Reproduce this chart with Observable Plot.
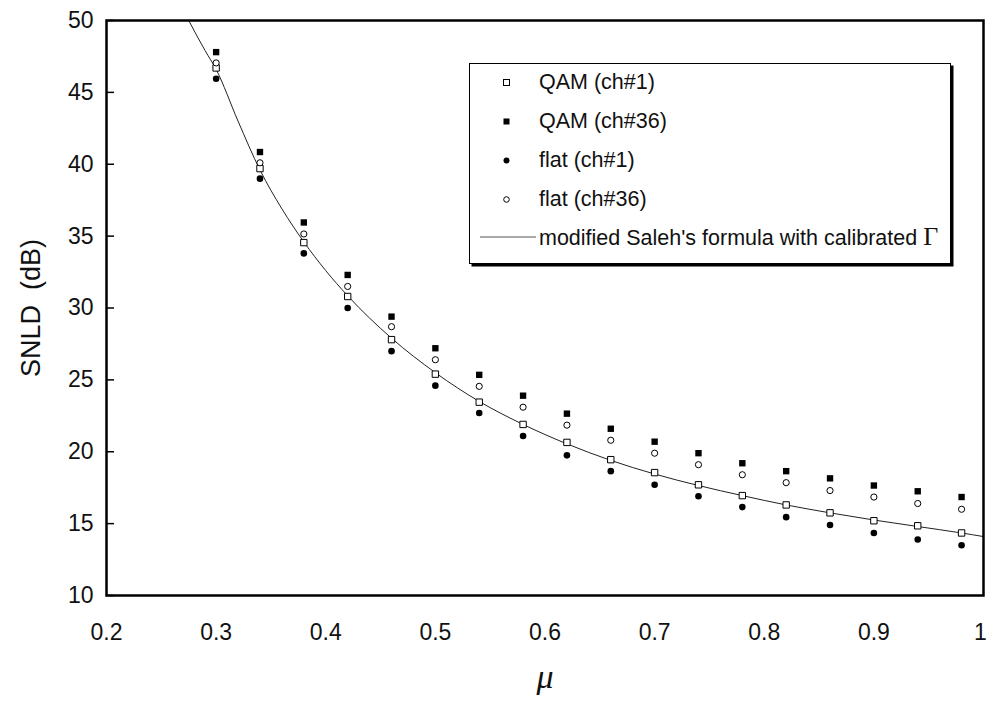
<!DOCTYPE html>
<html>
<head>
<meta charset="utf-8">
<script src="https://cdn.jsdelivr.net/npm/d3@7"></script>
<script src="https://cdn.jsdelivr.net/npm/@observablehq/plot@0.6"></script>
<style>
  html, body { margin: 0; padding: 0; background: #fff; }
  #wrap { position: relative; width: 987px; height: 705px; font-family: "Liberation Sans", Arial, sans-serif; }
  #legend { position: absolute; left: 469px; top: 63px; width: 480px; height: 199px;
            border: 1.5px solid #000; box-shadow: 2.5px 2.5px 0 #000; background: #fff; }
  .row { position: absolute; left: 0; height: 30px; font-size: 21.5px; color: #111; }
  .row svg { position: absolute; }
  .row span.t { position: absolute; left: 69px; white-space: nowrap; line-height: 30px; }
</style>
</head>
<body>
<div id="wrap"></div>
<script>
// ---- data ----
const mu = [0.30, 0.34, 0.38, 0.42, 0.46, 0.50, 0.54, 0.58, 0.62, 0.66, 0.70, 0.74, 0.78, 0.82, 0.86, 0.90, 0.94, 0.98];
const qamCh1  = [46.7, 39.7, 34.55, 30.8, 27.8, 25.4, 23.45, 21.9, 20.65, 19.45, 18.55, 17.7, 16.95, 16.3, 15.75, 15.2, 14.85, 14.35];
const qamCh36 = [47.8, 40.85, 35.95, 32.3, 29.4, 27.2, 25.35, 23.9, 22.65, 21.6, 20.7, 19.9, 19.2, 18.65, 18.15, 17.65, 17.25, 16.85];
const flatCh1 = [45.95, 39.0, 33.8, 30.0, 27.0, 24.6, 22.7, 21.1, 19.75, 18.65, 17.7, 16.9, 16.15, 15.45, 14.9, 14.35, 13.9, 13.5];
const flatCh36 = [47.05, 40.1, 35.15, 31.5, 28.7, 26.4, 24.55, 23.1, 21.85, 20.8, 19.9, 19.1, 18.4, 17.85, 17.3, 16.85, 16.4, 16.0];
// fitted curve
const curveMu  = [0.265, 0.275, 0.29, 0.30, 0.32, 0.34, 0.36, 0.38, 0.40, 0.42, 0.46, 0.50, 0.54, 0.58, 0.62, 0.66, 0.70, 0.74, 0.78, 0.82, 0.86, 0.90, 0.94, 0.98, 1.00];
const curveVal = [51.5, 50.0, 47.9, 46.6, 43.0, 39.6, 36.9, 34.6, 32.6, 30.85, 27.9, 25.5, 23.5, 21.9, 20.55, 19.4, 18.45, 17.65, 16.95, 16.3, 15.75, 15.25, 14.8, 14.35, 14.1];
const xTicks = [0.2, 0.3, 0.4, 0.5, 0.6, 0.7, 0.8, 0.9];
const xTickLast = [1.0];
const yTicks = [10, 15, 20, 25, 30, 35, 40, 45, 50];
const seriesNames = ["QAM (ch#1)", "QAM (ch#36)", "flat (ch#1)", "flat (ch#36)"];
const curveName = "modified Saleh's formula with calibrated ";

const rows = (vals) => mu.map((m, i) => ({mu: m, v: vals[i]}));
const curve = curveMu.map((m, i) => ({mu: m, v: curveVal[i]}));

const font = "Liberation Sans, Arial, sans-serif";

const chart = Plot.plot({
  width: 987,
  height: 705,
  marginTop: 20,
  marginRight: 4,
  marginBottom: 110,
  marginLeft: 106,
  style: {fontFamily: font, background: "#fff", color: "#000"},
  x: {domain: [0.2, 1], axis: null},
  y: {domain: [10, 50], axis: null},
  marks: [
    Plot.axisX({ticks: xTicks, tickSize: 0, tickPadding: 28, fontSize: 23, label: null,
      tickFormat: d => d.toFixed(1), fill: "#111"}),
    Plot.axisX({ticks: xTickLast, tickSize: 0, tickPadding: 28, fontSize: 23, label: null, dx: -3,
      tickFormat: d => "1", fill: "#111"}),
    Plot.axisY({ticks: yTicks, tickSize: -8, tickPadding: 21, fontSize: 23, label: null,
      tickFormat: d => String(d), fill: "#111", strokeWidth: 1.5}),
    Plot.line(curve, {x: "mu", y: "v", curve: "monotone-x", stroke: "#222", strokeWidth: 1, clip: true}),
    Plot.dot(rows(qamCh1),  {x: "mu", y: "v", symbol: "square", r: 3.6, stroke: "#000", strokeWidth: 1, fill: "#fff"}),
    Plot.dot(rows(flatCh36),{x: "mu", y: "v", symbol: "circle", r: 3.1, stroke: "#000", strokeWidth: 1, fill: "#fff"}),
    Plot.dot(rows(qamCh36), {x: "mu", y: "v", symbol: "square", r: 3.6, fill: "#000", stroke: "none"}),
    Plot.dot(rows(flatCh1), {x: "mu", y: "v", symbol: "circle", r: 3.3, fill: "#000", stroke: "none"}),
    Plot.frame({stroke: "#000", strokeWidth: 2.5}),
    Plot.text(["SNLD  (dB)"], {frameAnchor: "left", textAnchor: "middle", rotate: -90, dx: -75, fontSize: 27, fill: "#111", fontFamily: font}),
    Plot.text(["μ"], {frameAnchor: "bottom", textAnchor: "middle", dy: 92, fontSize: 34, fontStyle: "italic", fill: "#111", fontFamily: "Liberation Serif, serif"})
  ]
});

const wrap = document.getElementById("wrap");
wrap.appendChild(chart);

// ---- legend (HTML overlay) ----
const legend = document.createElement("div");
legend.id = "legend";
const rowTops = [3, 42, 81, 120, 158];
const symSvg = [
  '<rect x="2.5" y="2.5" width="6" height="6" fill="#fff" stroke="#000" stroke-width="1"/>',
  '<rect x="2.5" y="2.5" width="6" height="6" fill="#000"/>',
  '<circle cx="5.5" cy="5.5" r="3" fill="#000"/>',
  '<circle cx="5.5" cy="5.5" r="2.8" fill="#fff" stroke="#000" stroke-width="1"/>'
];
seriesNames.forEach((name, i) => {
  const r = document.createElement("div");
  r.className = "row";
  r.style.top = rowTops[i] + "px";
  r.innerHTML = `<svg width="11" height="11" style="left:${36 - 5.5}px;top:9.5px">${symSvg[i]}</svg><span class="t">${name}</span>`;
  legend.appendChild(r);
});
const lr = document.createElement("div");
lr.className = "row";
lr.style.top = rowTops[4] + "px";
lr.innerHTML = `<svg width="60" height="4" style="left:10px;top:13px"><line x1="0" y1="2" x2="56" y2="2" stroke="#555" stroke-width="1"/></svg>` +
  `<span class="t">${curveName}<span style="font-family:'Liberation Serif',serif;font-size:26px;">Γ</span></span>`;
legend.appendChild(lr);
wrap.appendChild(legend);
</script>
</body>
</html>
